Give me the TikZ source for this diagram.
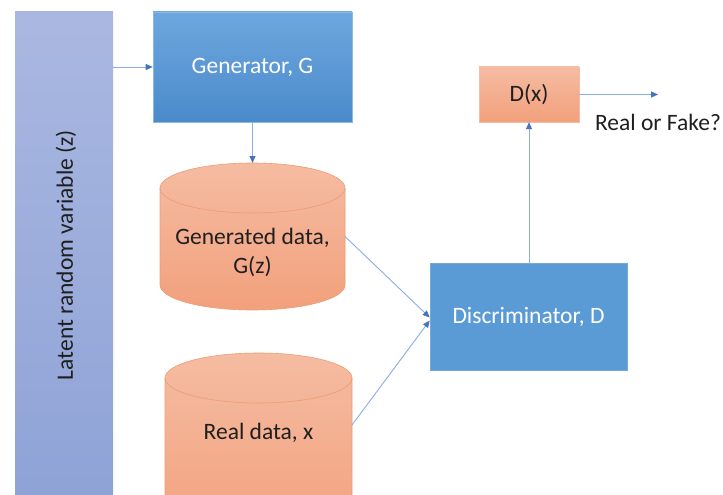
\documentclass[tikz,border=0pt]{standalone}
\usepackage{fontspec}
\setmainfont{Carlito}
\usetikzlibrary{arrows.meta}
\definecolor{latTop}{HTML}{AAB8E1}
\definecolor{latBot}{HTML}{8EA2D6}
\definecolor{genTop}{HTML}{6EA7DE}
\definecolor{genBot}{HTML}{4A8ACB}
\definecolor{disc}{HTML}{5B9BD5}
\definecolor{orTop}{HTML}{F5BCA2}
\definecolor{orBot}{HTML}{F2A07C}
\definecolor{orLine}{HTML}{EE9C72}
\definecolor{arrLine}{HTML}{8AAEE2}
\definecolor{arrHead}{HTML}{4472C4}
\tikzset{
  conn/.style={draw=arrLine, line width=0.9pt, -{Triangle[length=7pt,width=6pt,color=arrHead]}},
  bluebox/.style={draw=genTop!80!white, line width=0.6pt, text=white, font=\fontsize{23.5}{28}\selectfont, inner sep=0pt},
  darktext/.style={text=black!88, font=\fontsize{23.5}{29}\selectfont, align=center, inner sep=0pt},
  orfill/.style={top color=orTop, bottom color=orBot, draw=orLine, line width=0.6pt},
  hidden/.style={inner sep=0pt, outer sep=0pt}
}
\begin{document}
\begin{tikzpicture}[x=1pt,y=1pt]
\useasboundingbox (0,0) rectangle (723,-495);
\fill[white] (0,0) rectangle (723,-495);
\clip (0,0) rectangle (723,-495);

% latent bar
\node[hidden, minimum width=98pt, minimum height=500pt, top color=latTop, bottom color=latBot] (latent) at (64,-262) {};
\node[rotate=90, text=black!88, font=\fontsize{23.5}{28}\selectfont] (lattext) at (66,-255) {Latent random variable (z)};

% generator
\node[bluebox, minimum width=199pt, minimum height=110pt, top color=genTop, bottom color=genBot] (gen) at (252.5,-67) {Generator, G};

% generated data cylinder
\node[hidden, minimum width=185pt, minimum height=147pt] (gencyl) at (252.5,-236.5) {};
\path[orfill] (160,-188) -- (160,-285) arc[start angle=180, end angle=360, x radius=92.5, y radius=25]
  -- (345,-188) arc[start angle=0, end angle=180, x radius=92.5, y radius=25] -- cycle;
\draw[orLine, line width=0.6pt] (160,-188) arc[start angle=180, end angle=360, x radius=92.5, y radius=25];
\node[darktext] (gentext) at (252.5,-252) {Generated data,\\G(z)};

% real data cylinder
\node[hidden, minimum width=187pt, minimum height=167pt] (real) at (258.5,-436.5) {};
\path[orfill] (165,-378) -- (165,-520) arc[start angle=180, end angle=360, x radius=93.5, y radius=25]
  -- (352,-378) arc[start angle=0, end angle=180, x radius=93.5, y radius=25] -- cycle;
\draw[orLine, line width=0.6pt] (165,-378) arc[start angle=180, end angle=360, x radius=93.5, y radius=25];
\node[darktext] (realtext) at (258.5,-433) {Real data, x};

% discriminator
\node[bluebox, minimum width=197pt, minimum height=107pt, fill=disc, draw=disc!85!white] (disc) at (528.5,-316.5) {Discriminator, D};

% D(x)
\node[darktext, minimum width=100pt, minimum height=55pt, top color=orTop, bottom color=orBot, draw=orTop] (dx) at (529,-94.5) {D(x)};

\coordinate (out) at (658,-94.5);
\node[darktext] (rof) at (658,-122) {Real or Fake?};

% connectors
\draw[conn] (latent.east |- gen.west) -- (gen.west);
\draw[conn] (gen.south) -- (gencyl.north);
\draw[conn] (gencyl.east) -- ([yshift=-1pt]disc.west);
\draw[conn] ([yshift=11.5pt]real.east) -- ([yshift=-4pt]disc.west);
\draw[conn] (disc.north -| dx.south) -- (dx.south);
\draw[conn] (dx.east) -- (out);
\end{tikzpicture}
\end{document}
